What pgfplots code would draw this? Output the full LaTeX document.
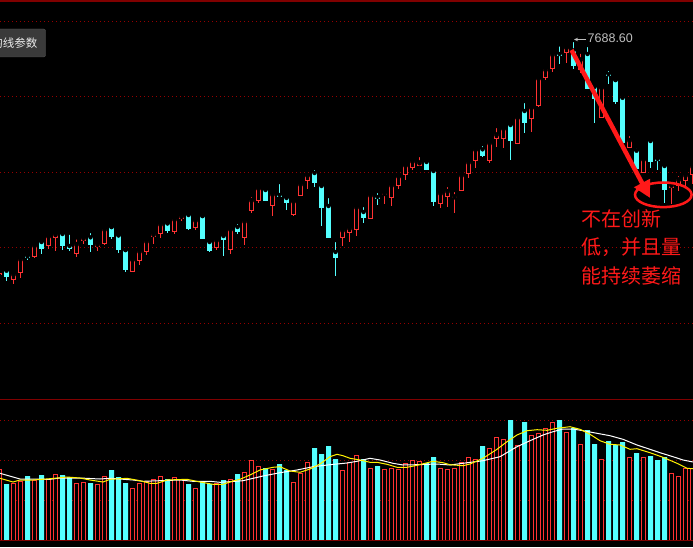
\documentclass[border=0pt]{standalone}
\usepackage{pgfplots}
\pgfplotsset{compat=1.18}
\usepackage{pgfplotstable}
\usepackage{fontspec}
\setmainfont{Liberation Sans}
\newfontfamily\cjk{Noto Sans CJK SC}
\usetikzlibrary{arrows.meta}

\definecolor{kred}{RGB}{255,50,50}
\definecolor{kcyan}{RGB}{84,255,255}
\definecolor{gridred}{RGB}{150,0,0}
\definecolor{linered}{RGB}{128,0,0}
\definecolor{annred}{RGB}{255,25,25}
\definecolor{btnfill}{RGB}{58,58,58}
\definecolor{btnedge}{RGB}{85,85,85}
\definecolor{btntext}{RGB}{235,235,235}
\definecolor{hilabel}{RGB}{190,190,190}

% rising candles: k = bar index, o/h/l/c = screen rows of the price panel, v = volume height
\pgfplotstableread{
k o h l c v
-1 275 272 276 272.5 71
1 279.7 270 283.7 274 57
2 272.7 256.7 277.7 259 59
4 256.7 244.7 257.7 245.3 60
6 245.7 236 249 236 61
7 237.7 232.7 250.7 234 66
10 253.7 237.3 257 244 57
11 241 235.7 243.7 237.7 58
13 247 240 251 244 56
14 244 227.3 245 229 64
18 271.7 259.3 271.7 259.3 52
19 261 248.3 265 251 57
20 251.7 237.3 255 241 59
21 237.3 232 244 234 61
22 233.7 221 238 224 64
24 232 215.7 234 219 63
25 219 213 221 216 61
27 228 218.7 230 220 52
30 248 238.7 249.7 240 57
32 249.7 229 253.7 229 61
34 237.7 219 245 221 68
35 211 195 213 200 80
36 201 188 203 188 74
38 205.7 192.3 215.7 194 71
41 215 201 216 201 58
42 195.7 181 195.7 184 67
43 180.7 175 189 175 78
48 237.7 227 246 230 70
49 233.3 227 242 228 78
50 229.7 206 236 207 85
52 218.7 194 218.7 195 72
54 194.7 191 204 193 71
55 197.7 183 206 185 72
56 185.7 176 188.7 176 71
57 174.7 165 179.7 165 77
58 167.7 157 169.7 161 80
59 165.7 155 165.7 162.3 79
62 203.7 191 207.7 193 72
63 196.7 185 206.7 191 71
64 197.8 190 212.7 196.3 72
65 190.7 174 190.7 175 78
66 174 160 178 162 83
67 160.7 149.3 168 149.3 81
69 160.7 141.7 162.7 142.7 92
70 138.7 126 146.7 134.3 103
71 138.7 128.3 147.7 128.3 101
73 144.3 117.3 144.3 117.3 95
75 118.7 107.3 132 107.3 105
76 106 78 107 78 107
77 77.5 67.3 79.5 69.3 112
78 69.3 53.3 71.5 54.2 118
80 53.3 47.3 63.3 47.3 108
82 69.5 51.7 73.3 59.3 96
85 117.5 87.3 117.5 87.3 81
89 147.7 134 147.7 140 83
91 172.7 159 172.7 159 83
95 188.3 181.7 204 184.7 67
96 185.5 174 190.5 179.2 64
97 180.7 172 186 175 72
98 175 164 184 166 72
}\upk

% falling candles
\pgfplotstableread{
k o h l c v
0 270.7 268.7 280.7 277 56
3 256.3 254 260 257.7 64
5 242 238 253.7 249 65
8 234 232 250 246 65
9 246 232.7 250.7 249 63
12 237.3 231 252 244.7 57
15 227 227 239 237 70
16 235.3 235.3 253 250 63
17 250 250 272 270 57
23 223.3 223.3 232.7 231.3 61
26 215 214 230 229 56
28 216 216 239 239 58
29 242 238 252 251 56
31 236 232 256 240 60
33 227 222 234 232 66
37 190 186 201 201 72
39 195 182 196 196.3 76
40 198 195 210 203 70
44 173 168 187 183 92
45 186 183 226 207.7 86
46 206 196 238 238 94
47 252 240 276 258 81
51 212 205 223 218 81
53 197 191 205 199 74
60 162 159 170 170 77
61 171 167 205.7 201.7 83
68 149.3 144 157.3 156.3 94
72 125 123 160 140.7 120
74 111 101 133.3 122.7 118
79 54 44.3 63.5 55.5 120
81 50.5 40 68.5 65.5 112
83 54 45 89 88.7 110
84 87 85 123.3 98.5 96
86 74.2 69 83.5 75.8 99
87 80 80 104 101.7 95
88 97.8 96 143.3 143.3 98
90 150.7 146.7 173.3 168.7 87
92 141 139.5 168 161.7 84
93 159 155 170 161.2 80
94 166 164 202.7 189.7 83
}\downk

% volume averages (px = horizontal pixel)
\pgfplotstableread{
px v
0 66.7
20 61
50 60.7
60 62
80 62
100 61
110 61.7
133 60
143 58.7
160 59.3
180 60
193 58.7
210 58.7
220 57.7
233 58.5
243 59.3
263 64
280 67.3
297 70
313 73.3
330 75.3
347 77
357 78.7
370 81.7
380 80
393 76.7
403 75
417 75.3
437 76
450 75
463 76.7
483 79.3
500 83.3
517 93.3
530 99.3
543 105
553 108.3
563 111
573 111
583 109.3
597 106.7
610 104.3
623 100.7
637 95
647 91.7
660 87.3
673 83.3
683 80
693 78
}\mawhite

\pgfplotstableread{
px v
0 61.7
13 58
20 60
33 60
50 61.3
67 63
80 62
90 60
103 58
110 60.7
127 61.7
140 59.3
150 56.7
157 56.7
167 60
187 60.7
200 58
213 55.7
223 55.7
233 59
240 60.7
250 65
260 70
273 72.7
280 73.3
290 69
300 67.7
310 71
320 76
330 83.3
337 85.7
343 84.3
350 81.7
360 80
370 77.7
377 77.7
387 75.7
397 72.7
407 72.7
417 74.7
433 78.7
443 77.3
450 75.3
463 74.3
470 76
483 81.7
497 90.7
507 98.3
517 105
527 109.3
537 110.3
547 109.7
557 111.7
570 113.3
580 110.7
590 105.7
600 99.3
610 95.7
620 95
630 90.7
637 91.3
650 87.3
663 82.7
677 76.7
687 71.7
693 71.3
}\mayellow

\pgfplotsset{
  kpanel/.style={scale only axis, width=693pt, xmin=0, xmax=693,
    axis line style={draw=none}, xtick=\empty, yticklabels={},
    major tick length=0pt, ymajorgrids,
    grid style={gridred, line width=0.9pt, dash pattern=on 1pt off 3pt}},
  seg/.style={only marks, mark=none,
    error bars/y dir=plus, error bars/y explicit,
    error bars/error mark=none, error bars/error bar style={#1}},
}

\begin{document}
\begin{tikzpicture}[x=1pt,y=1pt]
\path[use as bounding box] (0,0) rectangle (693,547);
\clip (0,0) rectangle (693,547);
\fill[black] (0,0) rectangle (693,547);

% price panel
\begin{axis}[kpanel, at={(0pt,148pt)}, anchor=south west, height=399pt,
  ymin=0, ymax=399, y dir=reverse, ytick={21,96.5,172,247,323}]
  \addplot[seg={kred, line width=1pt}]
    table[x expr=6.5+7*\thisrow{k}, y=h, y error plus expr=\thisrow{l}-\thisrow{h}] {\upk};
  \addplot[seg={kred, line width=5pt}]
    table[x expr=6.5+7*\thisrow{k}, y=c, y error plus expr={max(\thisrow{o}-\thisrow{c},1.5)}] {\upk};
  \addplot[seg={black, line width=3pt}]
    table[x expr=6.5+7*\thisrow{k}, y expr=\thisrow{c}+1, y error plus expr={max(\thisrow{o}-\thisrow{c}-2,0)}] {\upk};
  \addplot[seg={kcyan, line width=1pt}]
    table[x expr=6.5+7*\thisrow{k}, y=h, y error plus expr=\thisrow{l}-\thisrow{h}] {\downk};
  \addplot[seg={kcyan, line width=5pt}]
    table[x expr=6.5+7*\thisrow{k}, y=o, y error plus expr={max(\thisrow{c}-\thisrow{o},1.5)}] {\downk};
\end{axis}

% volume panel
\begin{axis}[kpanel, at={(0pt,0pt)}, anchor=south west, height=148pt,
  ymin=-7, ymax=141, ytick={40,80,120}]
  \addplot[ybar, bar width=4pt, bar shift=0pt, draw=kred, fill=black, line width=1pt]
    table[x expr=6.5+7*\thisrow{k}, y=v] {\upk};
  \addplot[ybar, bar width=5pt, bar shift=0pt, draw=none, fill=kcyan]
    table[x expr=6.5+7*\thisrow{k}, y=v] {\downk};
  \addplot[white, line width=1pt] table[x=px, y=v] {\mawhite};
  \addplot[yellow, line width=1pt] table[x=px, y=v] {\mayellow};
\end{axis}

% frame lines
\draw[linered, line width=1.5pt] (0,546.2) -- (693,546.2);
\draw[linered, line width=1.2pt] (0,147.5) -- (693,147.5);
\draw[linered, line width=1.2pt] (0,6.8) -- (693,6.8);

% parameter button
\filldraw[fill=btnfill, draw=btnedge, rounded corners=2pt] (-6,518) rectangle (45.5,490);
\node[anchor=east, inner sep=0, text=btntext,
  font=\cjk\fontsize{11.5}{13}\selectfont] at (37.5,503.5) {均线参数};

% high label
\draw[hilabel, line width=0.8pt, -{Stealth[length=4pt,width=3.5pt]}] (586,507.5) -- (574,507.5);
\node[anchor=west, inner sep=0, text=hilabel,
  font=\fontsize{12.5}{15}\selectfont] at (587.5,508.7) {7688.60};

% annotation
\draw[annred, line width=4.5pt, -{Triangle[length=17pt,width=17pt]}] (571.5,497) -- (650,349);
\draw[annred, line width=2.5pt] (663.3,352.2) ellipse [x radius=28.3, y radius=12.3];
\node[anchor=west, inner sep=0, text=annred, font=\cjk\fontsize{20}{24}\selectfont] at (581,328.5) {不在创新};
\node[anchor=west, inner sep=0, text=annred, font=\cjk\fontsize{20}{24}\selectfont] at (581,300) {低，并且量};
\node[anchor=west, inner sep=0, text=annred, font=\cjk\fontsize{20}{24}\selectfont] at (581,271.5) {能持续萎缩};
\end{tikzpicture}
\end{document}
